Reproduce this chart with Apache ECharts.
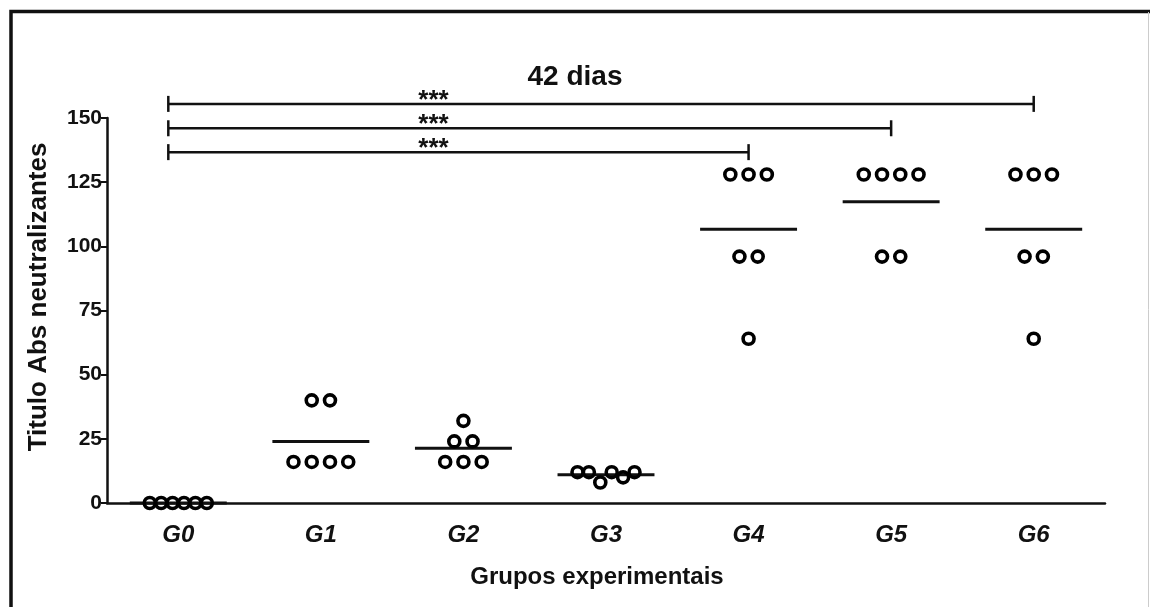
<!DOCTYPE html>
<html><head><meta charset="utf-8">
<script src="https://cdn.jsdelivr.net/npm/echarts@6/dist/echarts.min.js"></script>
<style>html,body{margin:0;padding:0;background:#fff}#c{width:1150px;height:607px}</style>
</head><body><div id="c"></div>
<script>
// ---- data ----
const categories = ['G0', 'G1', 'G2', 'G3', 'G4', 'G5', 'G6'];
const G0 = [0, 0, 0, 0, 0, 0];
const G1 = [40, 40, 16, 16, 16, 16];
const G2 = [32, 24, 24, 16, 16, 16];
const G3 = [12, 12, 8, 12, 10, 12];
const G4 = [128, 128, 128, 96, 96, 64];
const G5 = [128, 128, 128, 128, 96, 96];
const G6 = [128, 128, 128, 96, 96, 64];
const groups = [G0, G1, G2, G3, G4, G5, G6];
const yTicks = [0, 25, 50, 75, 100, 125, 150];
// significance brackets: [fromGroup, toGroup, height, label]
const brackets = [[0, 6, 155.5, '***'], [0, 5, 146, '***'], [0, 4, 136.7, '***']];
const title = '42 dias';
const yName = 'Titulo Abs neutralizantes';
const xName = 'Grupos experimentais';

// ---- layout helpers ----
const FONT = "'Liberation Sans', Arial, sans-serif";
function jitter(vals, gi) {
  // cluster near-equal values into a row and spread them side by side
  const clusters = [];
  vals.forEach((v, i) => {
    let c = clusters.find(c => Math.abs(c.ref - v) <= 5);
    if (!c) { c = { ref: v, idx: [] }; clusters.push(c); }
    c.idx.push(i);
  });
  const out = [];
  clusters.forEach(c => {
    const n = c.idx.length;
    const sp = n > 1 ? Math.min(0.128, 0.4 / (n - 1)) : 0;
    c.idx.forEach((i, k) => out.push([gi + (k - (n - 1) / 2) * sp, vals[i]]));
  });
  return out;
}
const points = [];
groups.forEach((g, gi) => jitter(g, gi).forEach(p => points.push(p)));
const means = groups.map((g, gi) => [gi, g.reduce((a, b) => a + b, 0) / g.length]);

const chart = echarts.init(document.getElementById('c'), null, { renderer: 'canvas' });
chart.setOption({
  backgroundColor: '#fff',
  animation: false,
  textStyle: { fontFamily: FONT },
  title: {
    text: title, left: 'center', top: 58,
    textStyle: { fontFamily: FONT, fontSize: 28, fontWeight: 'bold', color: '#111' }
  },
  grid: { left: 107, right: 45, top: 118, bottom: 104, containLabel: false },
  xAxis: [{
    type: 'category', data: categories, boundaryGap: true,
    axisLine: { onZero: false, lineStyle: { color: '#111', width: 2.5 } },
    axisTick: { alignWithLabel: true, length: 6, lineStyle: { color: '#111', width: 2 } },
    axisLabel: { margin: 20, fontFamily: FONT, fontSize: 24, fontWeight: 'bold', fontStyle: 'italic', color: '#111' },
    splitLine: { show: false }
  }, {
    type: 'value', min: -0.5, max: 6.5, show: false
  }],
  yAxis: {
    type: 'value', min: yTicks[0], max: yTicks[yTicks.length - 1], interval: 25,
    axisLine: { show: true, onZero: false, lineStyle: { color: '#111', width: 2.5 } },
    axisTick: { show: true, length: 6, lineStyle: { color: '#111', width: 2 } },
    axisLabel: { margin: 5, fontFamily: FONT, fontSize: 21, fontWeight: 'bold', color: '#111' },
    splitLine: { show: false }
  },
  graphic: [
    { type: 'rect', shape: { x: 11, y: 11.5, width: 1400, height: 800 }, style: { fill: 'none', stroke: '#111', lineWidth: 3.5 }, silent: true },
    { type: 'line', shape: { x1: 1148.5, y1: 12, x2: 1148.5, y2: 607 }, style: { stroke: '#ccc', lineWidth: 1 }, silent: true },
    { type: 'text', x: 39, y: 297, rotation: Math.PI / 2,
      style: { text: yName, font: "bold 26px " + FONT, fill: '#111', align: 'center', verticalAlign: 'middle' } },
    { type: 'text', x: 597, y: 577,
      style: { text: xName, font: "bold 24px " + FONT, fill: '#111', align: 'center', verticalAlign: 'middle' } }
  ],
  series: [
    {
      type: 'scatter', xAxisIndex: 1, data: points,
      symbol: 'circle', symbolSize: 11,
      itemStyle: { color: 'rgba(0,0,0,0)', borderColor: '#000', borderWidth: 3.6, opacity: 1 },
      emphasis: { disabled: true },
      z: 5
    },
    {
      type: 'custom', xAxisIndex: 1, data: means, clip: false,
      renderItem: (params, api) => {
        const a = api.coord([api.value(0) - 0.34, api.value(1)]);
        const b = api.coord([api.value(0) + 0.34, api.value(1)]);
        return { type: 'line', shape: { x1: a[0], y1: a[1], x2: b[0], y2: b[1] }, style: { stroke: '#111', lineWidth: 3 } };
      },
      z: 4
    },
    {
      type: 'custom', xAxisIndex: 1, data: brackets.map(b => [b[0], b[1], b[2]]), clip: false,
      renderItem: (params, api) => {
        const from = api.value(0) - 0.07, to = api.value(1), h = api.value(2);
        const a = api.coord([from, h]);
        const b = api.coord([to, h]);
        const s = api.coord([1.79, h]);
        const lbl = brackets[params.dataIndex][3];
        return {
          type: 'group', children: [
            { type: 'line', shape: { x1: a[0], y1: a[1], x2: b[0], y2: b[1] }, style: { stroke: '#111', lineWidth: 2.5 } },
            { type: 'line', shape: { x1: a[0], y1: a[1] - 8, x2: a[0], y2: a[1] + 8 }, style: { stroke: '#111', lineWidth: 2.5 } },
            { type: 'line', shape: { x1: b[0], y1: b[1] - 8, x2: b[0], y2: b[1] + 8 }, style: { stroke: '#111', lineWidth: 2.5 } },
            { type: 'text', x: s[0], y: s[1] - 3, style: { text: lbl, font: "bold 26px " + FONT, fill: '#111', align: 'center', verticalAlign: 'middle' } }
          ]
        };
      },
      z: 4
    }
  ]
});
</script>
</body></html>
